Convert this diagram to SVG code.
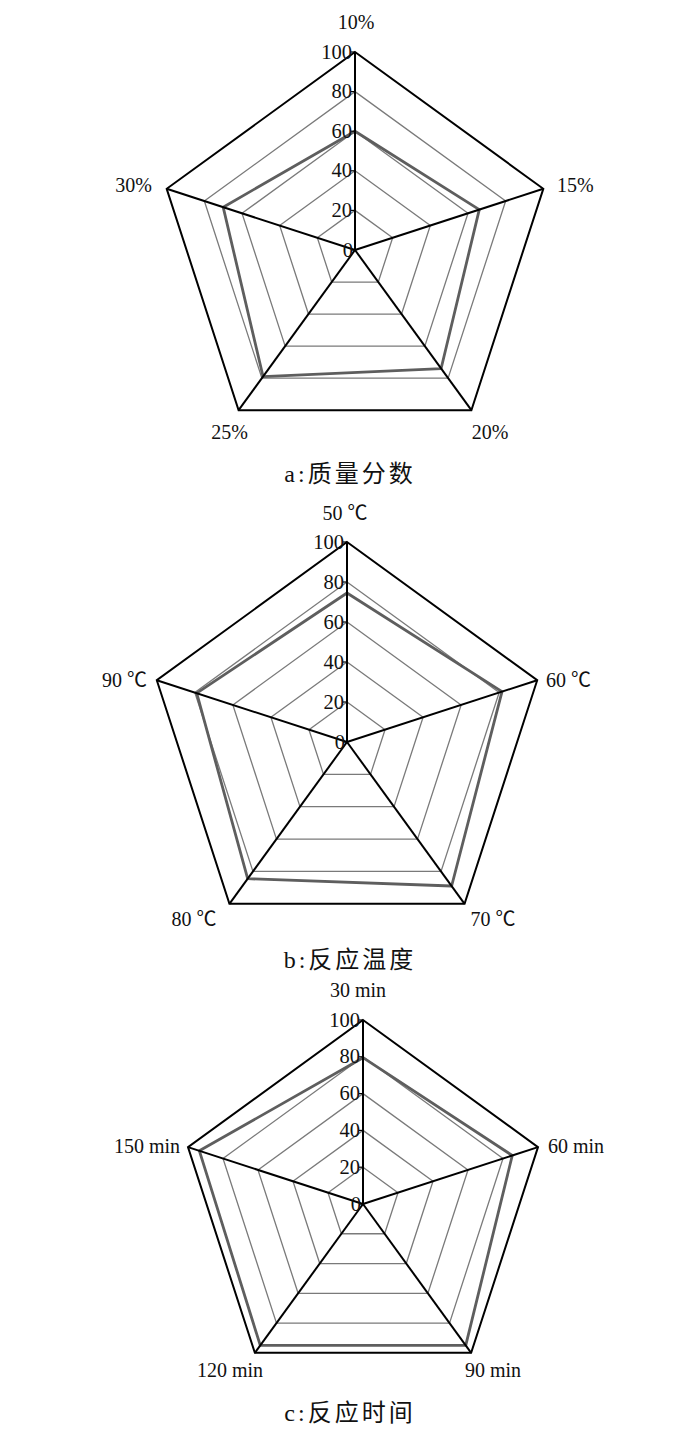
<svg xmlns="http://www.w3.org/2000/svg" width="700" height="1433" viewBox="0 0 700 1433">
<style>
.grid{fill:none;stroke:#7a7a7a;stroke-width:1.3}
.outer{fill:none;stroke:#000;stroke-width:2;stroke-linejoin:miter}
.spoke{stroke:#000;stroke-width:2}
.data{fill:none;stroke:#5e5e5e;stroke-width:2.8;stroke-linejoin:round}
.tick{stroke:#000;stroke-width:1.2}
.sc{font-family:"Liberation Serif","Times New Roman",serif;font-size:20.5px;fill:#111;text-anchor:end}
.lab{font-family:"Liberation Serif","Noto Sans CJK SC",serif;font-size:20px;fill:#111}
.cap{font-family:"Liberation Serif","Noto Sans CJK SC",serif;font-size:24px;fill:#111;text-anchor:middle;letter-spacing:3px}
</style>
<rect width="700" height="1433" fill="#fff"/>

<g id="chart-a">
  <g class="grid-lines">
    <polygon class="grid" points="355,210.4 392.66,237.76 378.28,282.04 331.72,282.04 317.34,237.76"/>
    <polygon class="grid" points="355,170.8 430.32,225.53 401.55,314.07 308.45,314.07 279.68,225.53"/>
    <polygon class="grid" points="355,131.2 467.99,213.29 424.83,346.11 285.17,346.11 242.01,213.29"/>
    <polygon class="grid" points="355,91.6 505.65,201.05 448.10,378.15 261.90,378.15 204.35,201.05"/>
  </g>
  <polygon class="data" points="355,131.2 479.28,209.62 441.12,368.54 263.06,376.55 223.18,207.17"/>
  <polygon class="outer" points="355,52 543.31,188.81 471.38,410.19 238.62,410.19 166.69,188.81"/>
  <g class="spokes">
    <line class="spoke" x1="355" y1="250" x2="355" y2="52"/>
    <line class="spoke" x1="355" y1="250" x2="543.31" y2="188.81"/>
    <line class="spoke" x1="355" y1="250" x2="471.38" y2="410.19"/>
    <line class="spoke" x1="355" y1="250" x2="238.62" y2="410.19"/>
    <line class="spoke" x1="355" y1="250" x2="166.69" y2="188.81"/>
  </g>
  <g class="ticks">
    <line class="tick" x1="351" y1="250" x2="355" y2="250"/>
    <line class="tick" x1="351" y1="210.4" x2="355" y2="210.4"/>
    <line class="tick" x1="351" y1="170.8" x2="355" y2="170.8"/>
    <line class="tick" x1="351" y1="131.2" x2="355" y2="131.2"/>
    <line class="tick" x1="351" y1="91.6" x2="355" y2="91.6"/>
    <line class="tick" x1="351" y1="52" x2="355" y2="52"/>
  </g>
  <g class="scale">
    <text class="sc" x="353" y="256.5">0</text>
    <text class="sc" x="352" y="216.9">20</text>
    <text class="sc" x="352" y="177.3">40</text>
    <text class="sc" x="352" y="137.7">60</text>
    <text class="sc" x="352" y="98.1">80</text>
    <text class="sc" x="352" y="58.5">100</text>
  </g>
  <text class="lab" x="356" y="29" text-anchor="middle">10%</text>
  <text class="lab" x="557" y="192">15%</text>
  <text class="lab" x="490" y="439" text-anchor="middle">20%</text>
  <text class="lab" x="229.5" y="439" text-anchor="middle">25%</text>
  <text class="lab" x="152" y="192" text-anchor="end">30%</text>
  <text class="cap" x="350" y="482">a:质量分数</text>
</g>

<g id="chart-b">
  <g class="grid-lines">
    <polygon class="grid" points="347,702 385.04,729.64 370.51,774.36 323.49,774.36 308.96,729.64"/>
    <polygon class="grid" points="347,662 423.08,717.28 394.02,806.72 299.98,806.72 270.92,717.28"/>
    <polygon class="grid" points="347,622 461.13,704.92 417.53,839.08 276.47,839.08 232.87,704.92"/>
    <polygon class="grid" points="347,582 499.17,692.56 441.05,871.44 252.95,871.44 194.83,692.56"/>
  </g>
  <polygon class="data" points="347,593 502.02,691.63 451.63,886.01 247.66,878.72 196.73,693.18"/>
  <polygon class="outer" points="347,542 537.21,680.20 464.56,903.80 229.44,903.80 156.79,680.20"/>
  <g class="spokes">
    <line class="spoke" x1="347" y1="742" x2="347" y2="542"/>
    <line class="spoke" x1="347" y1="742" x2="537.21" y2="680.20"/>
    <line class="spoke" x1="347" y1="742" x2="464.56" y2="903.80"/>
    <line class="spoke" x1="347" y1="742" x2="229.44" y2="903.80"/>
    <line class="spoke" x1="347" y1="742" x2="156.79" y2="680.20"/>
  </g>
  <g class="ticks">
    <line class="tick" x1="343" y1="742" x2="347" y2="742"/>
    <line class="tick" x1="343" y1="702" x2="347" y2="702"/>
    <line class="tick" x1="343" y1="662" x2="347" y2="662"/>
    <line class="tick" x1="343" y1="622" x2="347" y2="622"/>
    <line class="tick" x1="343" y1="582" x2="347" y2="582"/>
    <line class="tick" x1="343" y1="542" x2="347" y2="542"/>
  </g>
  <g class="scale">
    <text class="sc" x="345" y="748.5">0</text>
    <text class="sc" x="344" y="708.5">20</text>
    <text class="sc" x="344" y="668.5">40</text>
    <text class="sc" x="344" y="628.5">60</text>
    <text class="sc" x="344" y="588.5">80</text>
    <text class="sc" x="344" y="548.5">100</text>
  </g>
  <text class="lab" x="345" y="520" text-anchor="middle">50 ℃</text>
  <text class="lab" x="546" y="687">60 ℃</text>
  <text class="lab" x="493" y="926" text-anchor="middle">70 ℃</text>
  <text class="lab" x="194" y="926" text-anchor="middle">80 ℃</text>
  <text class="lab" x="147" y="687" text-anchor="end">90 ℃</text>
  <text class="cap" x="350" y="968">b:反应温度</text>
</g>

<g id="chart-c">
  <g class="grid-lines">
    <polygon class="grid" points="363,1167.2 398.00,1192.63 384.63,1233.77 341.37,1233.77 328.00,1192.63"/>
    <polygon class="grid" points="363,1130.4 433.00,1181.26 406.26,1263.54 319.74,1263.54 293.00,1181.26"/>
    <polygon class="grid" points="363,1093.6 468.00,1169.88 427.89,1293.32 298.11,1293.32 258.00,1169.88"/>
    <polygon class="grid" points="363,1056.8 503.00,1158.51 449.52,1323.09 276.48,1323.09 223.00,1158.51"/>
  </g>
  <polygon class="data" points="363,1057.7 512.27,1155.50 465.74,1345.42 260.26,1345.42 199.38,1150.84"/>
  <polygon class="outer" points="363,1020 538.00,1147.14 471.15,1352.86 254.85,1352.86 188.00,1147.14"/>
  <g class="spokes">
    <line class="spoke" x1="363" y1="1204" x2="363" y2="1020"/>
    <line class="spoke" x1="363" y1="1204" x2="538.00" y2="1147.14"/>
    <line class="spoke" x1="363" y1="1204" x2="471.15" y2="1352.86"/>
    <line class="spoke" x1="363" y1="1204" x2="254.85" y2="1352.86"/>
    <line class="spoke" x1="363" y1="1204" x2="188.00" y2="1147.14"/>
  </g>
  <g class="ticks">
    <line class="tick" x1="359" y1="1204" x2="363" y2="1204"/>
    <line class="tick" x1="359" y1="1167.2" x2="363" y2="1167.2"/>
    <line class="tick" x1="359" y1="1130.4" x2="363" y2="1130.4"/>
    <line class="tick" x1="359" y1="1093.6" x2="363" y2="1093.6"/>
    <line class="tick" x1="359" y1="1056.8" x2="363" y2="1056.8"/>
    <line class="tick" x1="359" y1="1020" x2="363" y2="1020"/>
  </g>
  <g class="scale">
    <text class="sc" x="361" y="1210.5">0</text>
    <text class="sc" x="360" y="1173.7">20</text>
    <text class="sc" x="360" y="1136.9">40</text>
    <text class="sc" x="360" y="1100.1">60</text>
    <text class="sc" x="360" y="1063.3">80</text>
    <text class="sc" x="360" y="1026.5">100</text>
  </g>
  <text class="lab" x="358" y="997" text-anchor="middle">30 min</text>
  <text class="lab" x="548" y="1153">60 min</text>
  <text class="lab" x="493" y="1377" text-anchor="middle">90 min</text>
  <text class="lab" x="230" y="1377" text-anchor="middle">120 min</text>
  <text class="lab" x="180" y="1153" text-anchor="end">150 min</text>
  <text class="cap" x="350" y="1421">c:反应时间</text>
</g>
</svg>
